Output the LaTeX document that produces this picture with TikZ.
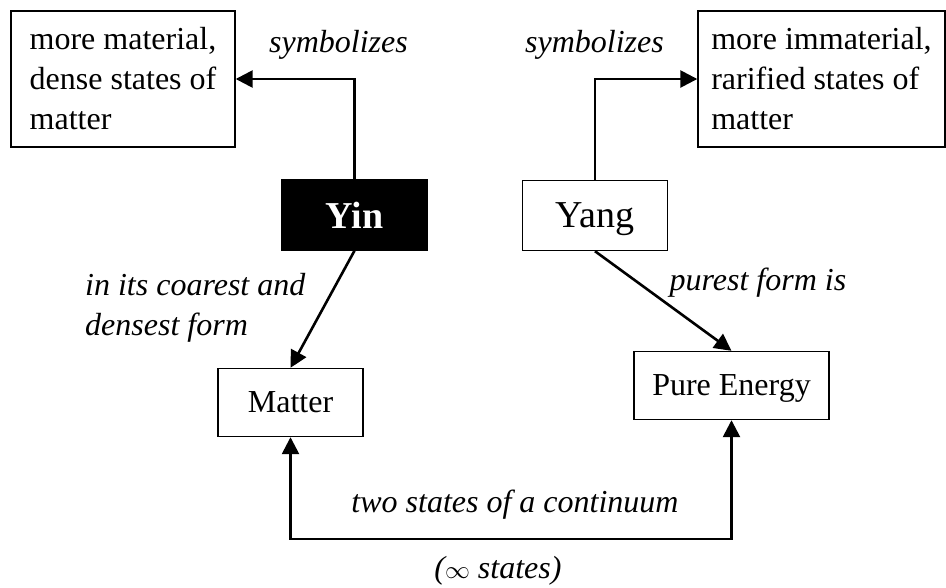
\documentclass[tikz,border=0pt]{standalone}
\usepackage{fontspec}
\setmainfont{Liberation Serif}
\usetikzlibrary{arrows.meta}
\begin{document}
\begin{tikzpicture}[x=1pt,y=-1pt,
  box/.style={draw,line width=1.4pt,inner sep=0pt,font=\fontsize{32}{40}\selectfont},
  bigbox/.style={box,font=\fontsize{38}{44}\selectfont,text depth=0pt,minimum width=145pt,minimum height=70pt},
  smallbox/.style={box,text depth=0pt,minimum height=68pt},
  lbl/.style={inner sep=0pt,font=\fontsize{32}{40}\selectfont\itshape},
  conn/.style={line width=2.6pt,-{Triangle[length=17pt,width=17pt]}},
  conn2/.style={line width=2.6pt,{Triangle[length=17pt,width=17pt]}-{Triangle[length=17pt,width=17pt]}},
]
\useasboundingbox (0,0) rectangle (946,587);
% boxes
\node[box,align=left,minimum width=224pt,minimum height=136pt] (lbox) at (123,79)
  {more material,\\dense states of\\matter};
\node[box,align=left,minimum width=247pt,minimum height=136pt] (rbox) at (821.5,79)
  {more immaterial,\\rarified states of\\matter};
\node[bigbox,fill=black,text=white,font=\fontsize{38}{44}\selectfont\bfseries] (yin) at (354.5,215) {Yin};
\node[bigbox] (yang) at (595,215.5) {Yang};
\node[smallbox,minimum width=145pt] (matter) at (290.5,402.5) {Matter};
\node[smallbox,minimum width=195pt] (pe) at (731.5,385.5) {Pure Energy};
% labels
\node[lbl,anchor=base] (sym1) at (338.5,52) {symbolizes};
\node[lbl,anchor=base] (sym2) at (594.5,52) {symbolizes};
\node[lbl,anchor=base] (purest) at (758,290) {purest form is};
\node[lbl,anchor=west,align=left] (coarse) at (85,308) {in its coarest and\\densest form};
\node[lbl,anchor=base] (two) at (515,512) {two states of a continuum};
\node[lbl,anchor=base] (inf) at (498,578) {($\infty$ states)};
% connectors
\draw[conn] (yin.north) |- (lbox.east);
\draw[conn] (yang.north) |- (rbox.west);
\draw[conn] (yin.south) -- (matter.north);
\draw[conn] (yang.south) -- (pe.north);
\coordinate (base) at (0,539);
\draw[conn2] (matter.south) -- (matter.south |- base) -| (pe.south);
\end{tikzpicture}
\end{document}
